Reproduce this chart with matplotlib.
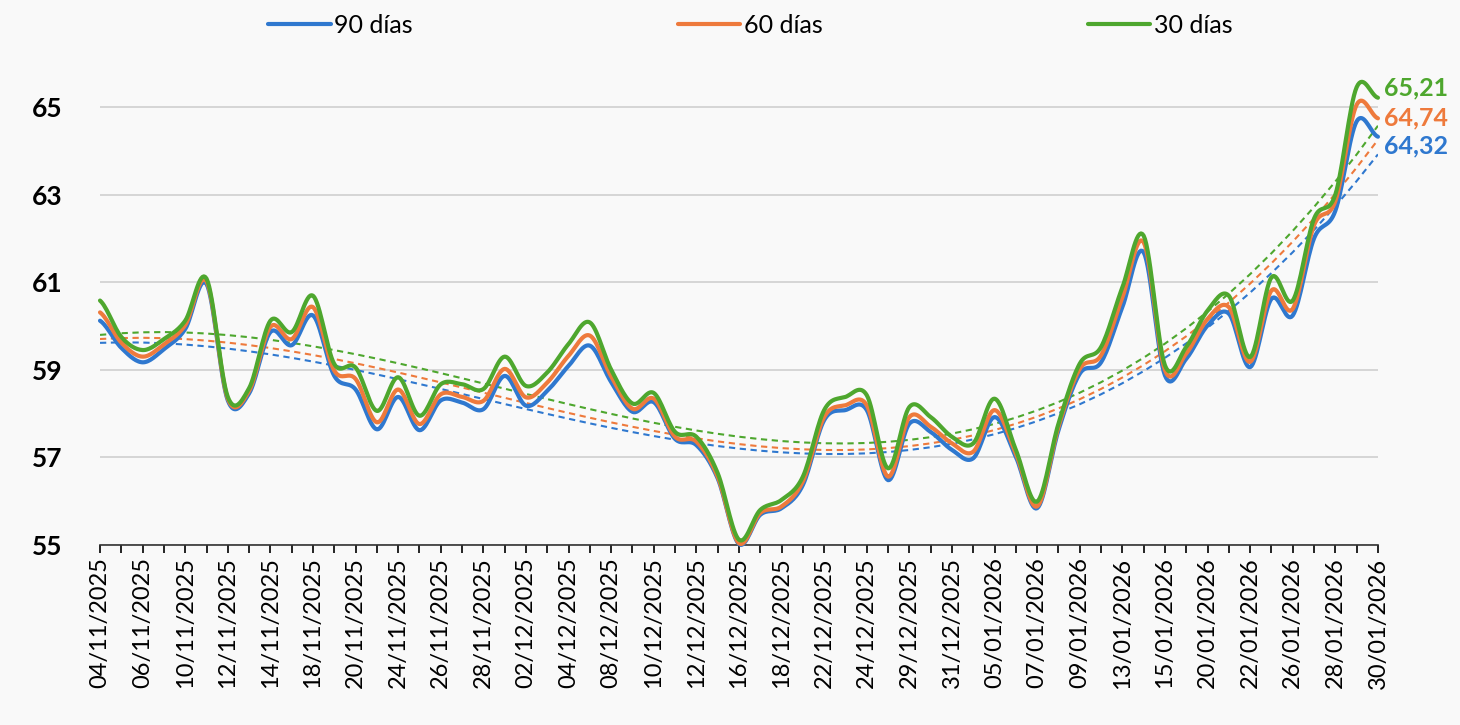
import matplotlib.pyplot as plt
import numpy as np
import pandas as pd

# trading days shown on the axis (weekdays without 25/12, 01/01, 19/01)
dates = pd.bdate_range('2025-11-04', '2026-01-30')
dates = dates.drop(pd.to_datetime(['2025-12-25', '2026-01-01', '2026-01-19']))
date_labels = [d.strftime('%d/%m/%Y') for d in dates]

d90 = [60.12, 59.50, 59.17, 59.47, 59.93, 60.96, 58.30, 58.46, 59.86, 59.56,
       60.24, 58.86, 58.55, 57.64, 58.38, 57.62, 58.30, 58.25, 58.10, 58.86,
       58.18, 58.52, 59.09, 59.55, 58.72, 58.04, 58.26, 57.42, 57.28, 56.52,
       55.02, 55.69, 55.84, 56.37, 57.85, 58.08, 58.08, 56.48, 57.77, 57.58,
       57.17, 56.98, 57.92, 57.01, 55.84, 57.62, 58.91, 59.17, 60.43, 61.68,
       58.87, 59.25, 60.01, 60.28, 59.06, 60.62, 60.24, 62.00, 62.63, 64.67,
       64.32]
d60 = [60.31, 59.62, 59.30, 59.58, 60.02, 61.02, 58.34, 58.52, 59.98, 59.70,
       60.43, 58.98, 58.79, 57.80, 58.55, 57.76, 58.44, 58.38, 58.29, 59.02,
       58.37, 58.71, 59.32, 59.78, 58.85, 58.11, 58.34, 57.47, 57.36, 56.56,
       55.04, 55.73, 55.88, 56.45, 57.92, 58.19, 58.19, 56.56, 57.92, 57.70,
       57.32, 57.13, 58.08, 57.09, 55.88, 57.70, 59.02, 59.33, 60.65, 61.91,
       58.99, 59.37, 60.16, 60.43, 59.18, 60.81, 60.39, 62.30, 62.85, 65.05,
       64.74]
d30 = [60.58, 59.75, 59.45, 59.70, 60.12, 61.08, 58.38, 58.58, 60.12, 59.86,
       60.69, 59.13, 59.05, 58.06, 58.83, 57.95, 58.67, 58.67, 58.56, 59.30,
       58.63, 58.94, 59.59, 60.08, 59.00, 58.23, 58.47, 57.58, 57.47, 56.64,
       55.12, 55.80, 56.03, 56.56, 58.08, 58.38, 58.42, 56.75, 58.15, 57.92,
       57.47, 57.32, 58.34, 57.17, 55.99, 57.77, 59.14, 59.52, 60.88, 62.06,
       59.10, 59.52, 60.35, 60.69, 59.29, 61.11, 60.58, 62.45, 63.00, 65.45,
       65.21]

series = [('90 días', d90, '#2F78CF'), ('60 días', d60, '#EE7A3C'), ('30 días', d30, '#4EA72E')]
label_offsets = [-9, 0, 10]  # px, end labels


def smooth(y, n=16):
    # Catmull-Rom curve through the points, like Excel's smoothed line
    y = np.asarray(y, float)
    p = np.concatenate([[y[0]], y, [y[-1]]])
    xs, ys = [], []
    t = np.linspace(0, 1, n, endpoint=False)
    for i in range(len(y) - 1):
        p0, p1, p2, p3 = p[i], p[i + 1], p[i + 2], p[i + 3]
        seg = 0.5 * (2 * p1 + (-p0 + p2) * t + (2 * p0 - 5 * p1 + 4 * p2 - p3) * t ** 2
                     + (-p0 + 3 * p1 - 3 * p2 + p3) * t ** 3)
        xs.extend(i + t)
        ys.extend(seg)
    xs.append(len(y) - 1)
    ys.append(y[-1])
    return np.array(xs), np.array(ys)


plt.rcParams['font.family'] = ['Lato', 'DejaVu Sans']

fig = plt.figure(figsize=(14.6, 7.25), dpi=100, facecolor='#F9F9F9')
ax = fig.add_axes([0.0685, 0.2483, 0.8753, 0.6767])
ax.set_facecolor('#F9F9F9')

x = np.arange(len(date_labels))
for (name, vals, col), off in zip(series, label_offsets):
    sx, sy = smooth(vals)
    ax.plot(sx, sy, color=col, lw=3, label=name, clip_on=False, zorder=3,
            solid_capstyle='round')
    # polynomial trend line
    coef = np.polyfit(x, vals, 3)
    ax.plot(x, np.polyval(coef, x), color=col, lw=1.5, ls=(0, (3, 2.2)), zorder=2)
    ax.annotate(f'{vals[-1]:.2f}'.replace('.', ','), (x[-1], vals[-1]),
                xytext=(4, off * 0.72), textcoords='offset points',
                ha='left', va='center', color=col, fontsize=18, fontweight='bold',
                annotation_clip=False)

ax.set_xlim(0, len(x) - 1)
ax.set_ylim(55, 66.2)
ax.set_yticks([55, 57, 59, 61, 63, 65])
ax.yaxis.grid(True, color='#D0D0D0', lw=1.2)
ax.set_axisbelow(True)
ax.tick_params(axis='y', length=0, pad=27, labelsize=19)
for lbl in ax.get_yticklabels():
    lbl.set_fontweight('bold')

ax.set_xticks(x)
ax.set_xticklabels([lab if i % 2 == 0 else '' for i, lab in enumerate(date_labels)],
                   rotation=90, fontsize=17)
ax.tick_params(axis='x', length=6, width=1.2, direction='out', pad=3)

for s in ['left', 'right', 'top']:
    ax.spines[s].set_visible(False)
ax.spines['bottom'].set_color('#333333')
ax.spines['bottom'].set_linewidth(1.2)

fig.legend(loc='center', bbox_to_anchor=(0.514, 0.9655), ncol=3, frameon=False,
           fontsize=18, handlelength=2.5, handletextpad=0.15, columnspacing=10.6)

fig.savefig('out.png', dpi=100, facecolor=fig.get_facecolor())
